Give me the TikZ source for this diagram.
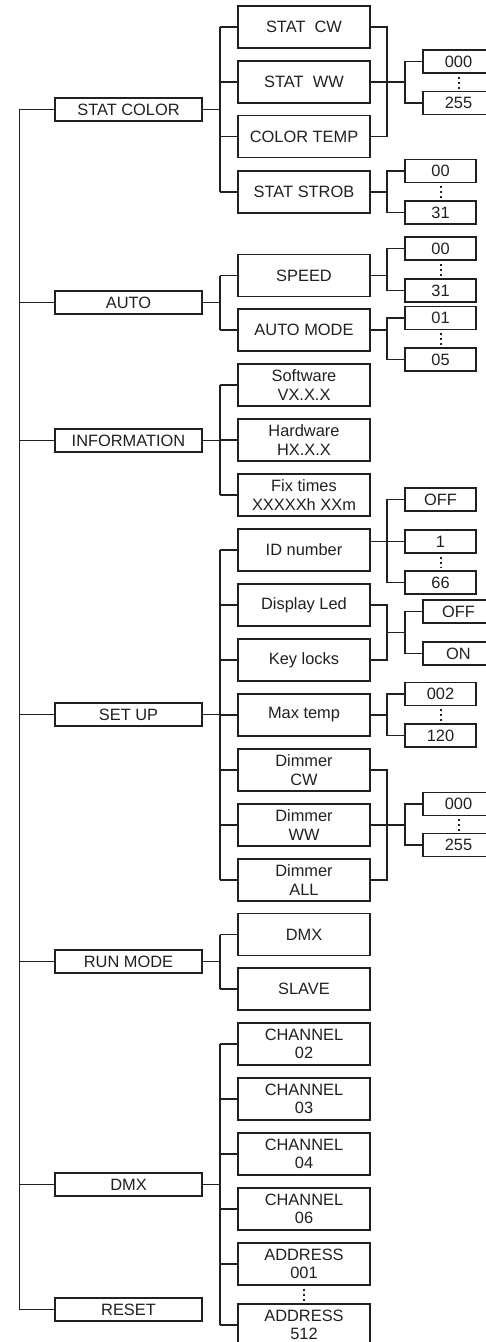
\documentclass[tikz,border=0pt]{standalone}
\usepackage{fontspec}
\setmainfont{Liberation Sans}
\usetikzlibrary{calc}
\definecolor{ink}{RGB}{35,31,32}
\begin{document}
\begin{tikzpicture}[x=1pt,y=-1pt,
  box/.style={draw=ink, line width=1.3pt, inner sep=0pt, text=ink, font=\fontsize{16.4}{18.4}\selectfont, align=center},
  lone/.style={box, minimum width=147pt, minimum height=23pt},
  ltwo/.style={box, minimum width=132pt, minimum height=42pt},
  val/.style={box, minimum width=71pt, minimum height=23pt},
  wire/.style={draw=ink, line width=1.3pt},
  vdots/.style={draw=ink, line width=2pt, dash pattern=on 2pt off 3pt}]
\useasboundingbox (0,0) rectangle (486,1342);
\clip (0,0) rectangle (486,1342);
\coordinate (B1) at (19.5,0);
\coordinate (B2) at (220,0);
\coordinate (B3) at (387,0);
\coordinate (B4) at (405,0);
% level 1
\node[lone] (sc) at (128.5,109.5) {STAT COLOR};
\node[lone] (auto) at (128.5,302.5) {AUTO};
\node[lone] (info) at (128.5,440.5) {INFORMATION};
\node[lone] (setup) at (128.5,714.5) {SET UP};
\node[lone] (run) at (128.5,961.5) {RUN MODE};
\node[lone] (dmx) at (128.5,1184.5) {DMX};
\node[lone] (reset) at (128.5,1309.5) {RESET};
% level 2
\node[ltwo] (scw) at (304,27) {STAT~\ CW};
\node[ltwo] (sww) at (304,82) {STAT~\ WW};
\node[ltwo] (sct) at (304,136.5) {COLOR TEMP};
\node[ltwo] (sst) at (304,192) {STAT STROB};
\node[ltwo] (spd) at (304,275.5) {SPEED};
\node[ltwo] (amode) at (304,330) {AUTO MODE};
\node[ltwo] (soft) at (304,385) {Software\\VX.X.X};
\node[ltwo] (hard) at (304,440) {Hardware\\HX.X.X};
\node[ltwo] (fix) at (304,495) {Fix times\\XXXXXh XXm};
\node[ltwo] (idn) at (304,550) {ID number};
\node[ltwo] (dled) at (304,605) {Display Led};
\node[ltwo] (klock) at (304,660) {Key locks};
\node[ltwo] (mtemp) at (304,715) {Max temp};
\node[ltwo] (dcw) at (304,770) {Dimmer\\CW};
\node[ltwo] (dww) at (304,825) {Dimmer\\WW};
\node[ltwo] (dall) at (304,880) {Dimmer\\ALL};
\node[ltwo] (rdmx) at (304,934.5) {DMX};
\node[ltwo] (slave) at (304,989) {SLAVE};
\node[ltwo] (ch2) at (304,1044) {CHANNEL\\02};
\node[ltwo] (ch3) at (304,1099) {CHANNEL\\03};
\node[ltwo] (ch4) at (304,1154) {CHANNEL\\04};
\node[ltwo] (ch6) at (304,1209) {CHANNEL\\06};
\node[ltwo] (ad1) at (304,1264) {ADDRESS\\001};
\node[ltwo] (ad2) at (304,1325) {ADDRESS\\512};
% values
\node[val] (sa1) at (458.5,61.5) {000};
\node[val] (sa2) at (458.5,103) {255};
\node[val] (sb1) at (440.5,171) {00};
\node[val] (sb2) at (440.5,212.5) {31};
\node[val] (sp1) at (440.5,248.5) {00};
\node[val] (sp2) at (440.5,290.5) {31};
\node[val] (am1) at (440.5,318) {01};
\node[val] (am2) at (440.5,359.5) {05};
\node[val] (id0) at (440.5,499.5) {OFF};
\node[val] (id1) at (440.5,541.5) {1};
\node[val] (id2) at (440.5,582.5) {66};
\node[val] (dl1) at (458.5,611.5) {OFF};
\node[val] (dl2) at (458.5,653.5) {ON};
\node[val] (mt1) at (440.5,694) {002};
\node[val] (mt2) at (440.5,735.5) {120};
\node[val] (dm1) at (458.5,804) {000};
\node[val] (dm2) at (458.5,845) {255};
% trunk
\draw[wire] (sc.west) -- (sc.west -| B1) -- (reset.west -| B1) -- (reset.west);
\foreach \n in {auto,info,setup,run,dmx} \draw[wire] (\n.west) -- (\n.west -| B1);
% level 2 buses
\foreach \p/\f/\l in {sc/scw/sst, auto/spd/amode, info/soft/fix, setup/idn/dall, run/rdmx/slave, dmx/ch2/ad2} {
  \draw[wire] (\p.east) -- (\p.east -| B2);
  \draw[wire] (\f.west -| B2) -- (\l.west -| B2);
}
\foreach \c in {scw,sww,sct,sst,spd,amode,soft,hard,fix,idn,dled,klock,mtemp,dcw,dww,dall,rdmx,slave,ch2,ch3,ch4,ch6,ad1,ad2}
  \draw[wire] (\c.west -| B2) -- (\c.west);
% stat cw/ww/temp
\draw[wire] (scw.east) -- (scw.east -| B3) -- (sct.east -| B3) -- (sct.east);
\draw[wire] (sww.east) -- (sww.east -| B4);
\draw[wire] (sa1.west) -- (sa1.west -| B4) -- (sa2.west -| B4) -- (sa2.west);
% display / key
\coordinate (dk) at ($(dled.east)!0.5!(klock.east)$);
\draw[wire] (dled.east) -- (dled.east -| B3) -- (klock.east -| B3) -- (klock.east);
\draw[wire] (dk -| B3) -- (dk -| B4);
\draw[wire] (dl1.west) -- (dl1.west -| B4) -- (dl2.west -| B4) -- (dl2.west);
% dimmers
\draw[wire] (dcw.east) -- (dcw.east -| B3) -- (dall.east -| B3) -- (dall.east);
\draw[wire] (dww.east) -- (dww.east -| B4);
\draw[wire] (dm1.west) -- (dm1.west -| B4) -- (dm2.west -| B4) -- (dm2.west);
% two-value groups
\foreach \p/\a/\b in {sst/sb1/sb2, spd/sp1/sp2, amode/am1/am2, mtemp/mt1/mt2} {
  \draw[wire] (\p.east) -- (\p.east -| B3);
  \draw[wire] (\a.west) -- (\a.west -| B3) -- (\b.west -| B3) -- (\b.west);
}
% ID number
\draw[wire] (idn.east |- id1.west) -- (id1.west);
\draw[wire] (id0.west) -- (id0.west -| B3) -- (id2.west -| B3) -- (id2.west);
% dots
\foreach \a/\b in {sa1/sa2, sb1/sb2, sp1/sp2, am1/am2, id1/id2, mt1/mt2, dm1/dm2, ad1/ad2}
  \draw[vdots] ([yshift=-3pt]\a.south) -- ([yshift=2pt]\b.north);
\end{tikzpicture}
\end{document}
